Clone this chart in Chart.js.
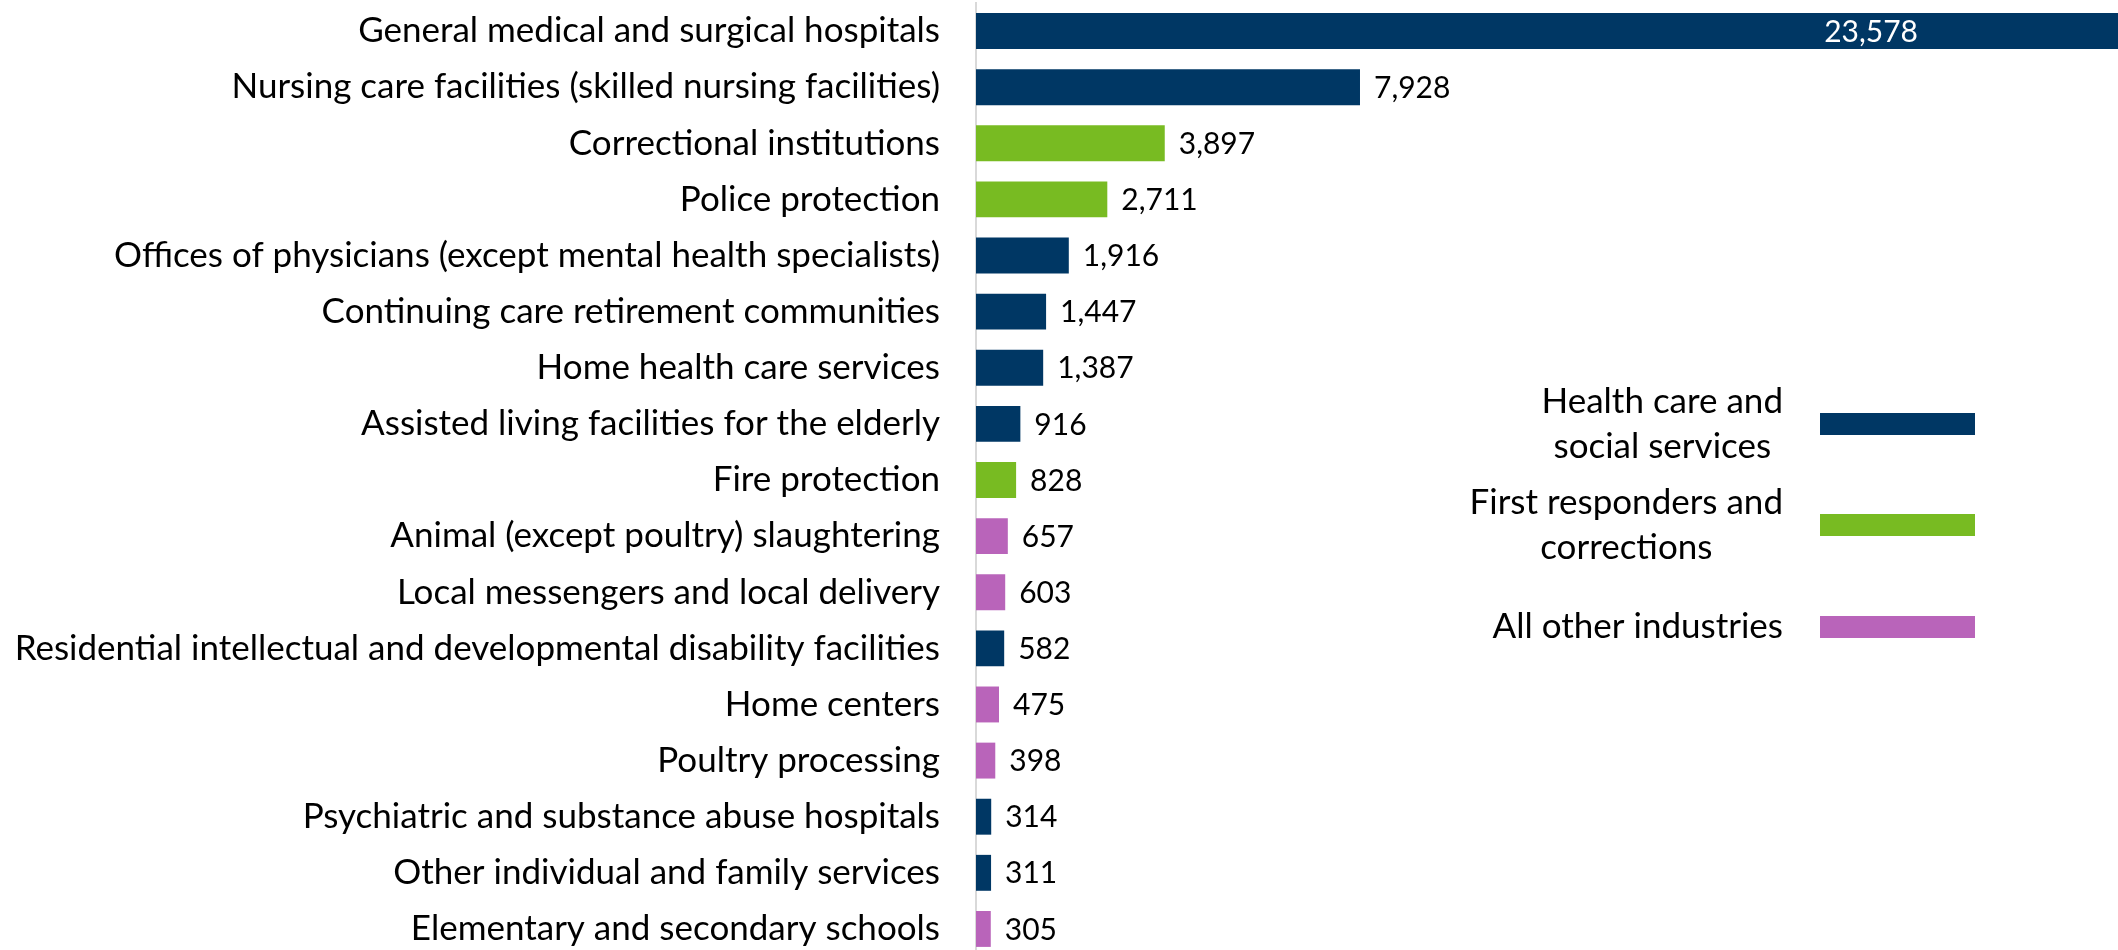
<!DOCTYPE html>
<html>
<head>
<meta charset="utf-8">
<script src="https://cdn.jsdelivr.net/npm/chart.js@4"></script>
<style>
  html, body { margin: 0; padding: 0; background: #fff; overflow: hidden; }
  #wrap { width: 2118px; height: 960px; }
</style>
</head>
<body>
<div id="wrap"><canvas id="chart" width="2118" height="960"></canvas></div>
<script>
// категорії (галузі)
const industries = [
  'General medical and surgical hospitals',
  'Nursing care facilities (skilled nursing facilities)',
  'Correctional institutions',
  'Police protection',
  'Offices of physicians (except mental health specialists)',
  'Continuing care retirement communities',
  'Home health care services',
  'Assisted living facilities for the elderly',
  'Fire protection',
  'Animal (except poultry) slaughtering',
  'Local messengers and local delivery',
  'Residential intellectual and developmental disability facilities',
  'Home centers',
  'Poultry processing',
  'Psychiatric and substance abuse hospitals',
  'Other individual and family services',
  'Elementary and secondary schools'
];
// значення
const counts = [23578, 7928, 3897, 2711, 1916, 1447, 1387, 916, 828, 657, 603, 582, 475, 398, 314, 311, 305];
// група кожної галузі (0 - health, 1 - first responders, 2 - other)
const groupOf = [0, 0, 1, 1, 0, 0, 0, 0, 1, 2, 2, 0, 2, 2, 0, 0, 2];
// легенда
const groupNames = [['Health care and', 'social services'], ['First responders and', 'corrections'], ['All other industries']];
const groupColors = ['#003764', '#78BB22', '#B964BA'];

const FONT = 'Lato, "Liberation Sans", sans-serif';

// підписи значень біля стовпчиків
const valueLabels = {
  id: 'valueLabels',
  afterDatasetsDraw(chart) {
    const ctx = chart.ctx;
    const meta = chart.getDatasetMeta(0);
    ctx.save();
    ctx.font = '30px ' + FONT;
    ctx.textBaseline = 'middle';
    meta.data.forEach((bar, i) => {
      const txt = counts[i].toLocaleString('en-US');
      if (i === 0) {
        ctx.fillStyle = '#fff';
        ctx.textAlign = 'right';
        ctx.fillText(txt, bar.x - 200, bar.y + 1);
      } else {
        ctx.fillStyle = '#000';
        ctx.textAlign = 'left';
        ctx.fillText(txt, bar.x + 14, bar.y + 1);
      }
    });
    ctx.restore();
  }
};

// власна легенда справа
const sideLegend = {
  id: 'sideLegend',
  afterDraw(chart) {
    const ctx = chart.ctx;
    const centers = [424, 525, 627];
    ctx.save();
    ctx.font = '35px ' + FONT;
    ctx.textBaseline = 'middle';
    ctx.textAlign = 'center';
    groupNames.forEach((lines, g) => {
      const cy = centers[g];
      ctx.fillStyle = groupColors[g];
      ctx.fillRect(1820, cy - 11, 155, 22);
      const maxW = Math.max(...lines.map(l => ctx.measureText(l).width));
      const cx = 1783 - maxW / 2;
      const lh = 45;
      const y0 = cy - (lines.length - 1) * lh / 2;
      ctx.fillStyle = '#000';
      lines.forEach((l, k) => ctx.fillText(l, cx, y0 + k * lh));
    });
    ctx.restore();
  }
};

new Chart(document.getElementById('chart').getContext('2d'), {
  type: 'bar',
  data: {
    labels: industries,
    datasets: [{
      data: counts,
      backgroundColor: groupOf.map(g => groupColors[g]),
      barPercentage: 0.8,
      categoryPercentage: 0.8
    }]
  },
  options: {
    indexAxis: 'y',
    responsive: false,
    animation: false,
    layout: { padding: { top: 3, bottom: 3, left: 0, right: 0 } },
    plugins: { legend: { display: false }, tooltip: { enabled: false } },
    scales: {
      x: { display: false, min: 0, max: 23578 },
      y: {
        grid: { display: false, drawTicks: false },
        border: { display: true, color: '#d9d9d9', width: 2 },
        ticks: { autoSkip: false, padding: 36, color: '#000', font: { family: FONT, size: 35 } },
        afterFit(scale) {
          scale.width = 976;
          scale.paddingTop = 0;
          scale.paddingBottom = 0;
        }
      }
    }
  },
  plugins: [valueLabels, sideLegend]
});
</script>
</body>
</html>
